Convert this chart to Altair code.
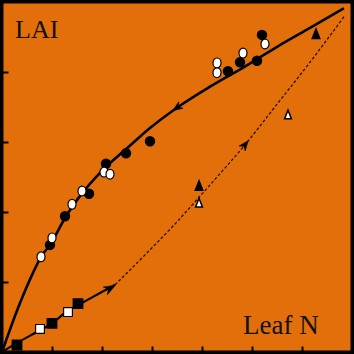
import altair as alt
import pandas as pd

# ---- data (x: leaf N, y: LAI; arbitrary units) ----
upper_x = [0.0, 0.36, 0.62, 0.78, 0.96, 1.28, 1.56, 1.96, 2.50, 2.96, 3.50, 4.16, 4.84, 5.50, 6.16, 6.84]
upper_y = [0.0, 0.70, 1.13, 1.36, 1.53, 1.94, 2.23, 2.56, 2.91, 3.20, 3.49, 3.79, 4.07, 4.36, 4.63, 4.91]

lower_solid_x = [0.0, 0.30, 0.76, 1.00, 1.32, 1.52, 2.26]
lower_solid_y = [0.0, 0.13, 0.31, 0.41, 0.59, 0.67, 0.96]

lower_dash_x = [2.26, 2.96, 3.50, 3.94, 4.30, 4.86, 5.50, 6.16, 6.84]
lower_dash_y = [0.96, 1.46, 1.86, 2.21, 2.50, 2.96, 3.54, 4.14, 4.79]

black_circle_x = [0.96, 1.26, 1.74, 2.08, 2.48, 2.96, 4.52, 4.76, 5.10, 5.20]
black_circle_y = [1.53, 1.94, 2.26, 2.69, 2.84, 3.01, 4.01, 4.14, 4.16, 4.53]
white_circle_x = [0.78, 1.00, 1.40, 1.60, 2.04, 2.16, 4.30, 4.30, 4.82, 5.26]
white_circle_y = [1.36, 1.63, 2.11, 2.30, 2.57, 2.54, 4.13, 3.99, 4.27, 4.40]

black_square_x = [0.30, 1.00, 1.52]
black_square_y = [0.10, 0.41, 0.69]
white_square_x = [0.76, 1.32]
white_square_y = [0.33, 0.57]

black_tri_x = [3.94, 6.28]
black_tri_y = [2.37, 4.54]
white_tri_x = [3.94, 5.72]
white_tri_y = [2.13, 3.39]

arrow_up_curve = (3.50, 3.49)
arrow_low_solid = (2.16, 0.91)
arrow_low_dash = (4.86, 2.96)

label_lai = ["LAI"]
label_lai_x = [0.26]
label_lai_y = [4.49]
label_n = ["Leaf N"]
label_n_x = [4.82]
label_n_y = [0.26]

x_ticks = [1, 2, 3, 4, 5, 6]
y_ticks = [1, 2, 3, 4]

ORANGE = "#E36F0B"

xs = alt.Scale(domain=[0, 7], nice=False, zero=False)
ys = alt.Scale(domain=[0, 5], nice=False, zero=False)
xaxis = alt.Axis(values=x_ticks, labels=False, title=None, grid=False, domain=False,
                 tickSize=6, tickWidth=2, tickColor="black", offset=-6)
yaxis = alt.Axis(values=y_ticks, labels=False, title=None, grid=False, domain=False,
                 tickSize=6, tickWidth=2, tickColor="black", offset=-6)


def df(xv, yv):
    return pd.DataFrame({"x": xv, "y": yv, "i": list(range(len(xv)))})


def enc(ch):
    return ch.encode(x=alt.X("x:Q", scale=xs, axis=xaxis),
                     y=alt.Y("y:Q", scale=ys, axis=yaxis))


upper = enc(alt.Chart(df(upper_x, upper_y)).mark_line(
    color="black", strokeWidth=2.6, interpolate="monotone")).encode(order="i:Q")
lsolid = enc(alt.Chart(df(lower_solid_x, lower_solid_y)).mark_line(
    color="black", strokeWidth=2.2, interpolate="monotone")).encode(order="i:Q")
ldash = enc(alt.Chart(df(lower_dash_x, lower_dash_y)).mark_line(
    color="#2a1200", strokeWidth=1.3, strokeDash=[3, 2], interpolate="monotone")).encode(order="i:Q")

bc = enc(alt.Chart(df(black_circle_x, black_circle_y)).mark_point(
    shape="circle", filled=True, fill="black", stroke="black", size=72, opacity=1))
wc = enc(alt.Chart(df(white_circle_x, white_circle_y)).mark_point(
    shape="M0,-1.1A0.9,1.1 0 1,0 0,1.1A0.9,1.1 0 1,0 0,-1.1Z", filled=True, fill="white",
    stroke="black", strokeWidth=1.2, size=80, opacity=1))
bs = enc(alt.Chart(df(black_square_x, black_square_y)).mark_point(
    shape="square", filled=True, fill="black", stroke="black", size=78, opacity=1))
ws = enc(alt.Chart(df(white_square_x, white_square_y)).mark_point(
    shape="square", filled=True, fill="white", stroke="black", strokeWidth=1.2, size=78, opacity=1))
tri = "M0,-1.15L-0.85,1L0.85,1Z"
bt = enc(alt.Chart(df(black_tri_x, black_tri_y)).mark_point(
    shape=tri, filled=True, fill="black", stroke="black", size=64, opacity=1))
wt = enc(alt.Chart(df(white_tri_x, white_tri_y)).mark_point(
    shape=tri, filled=True, fill="white", stroke="black", strokeWidth=1.5, size=64, opacity=1))

arrow_shape = "M0,-1L0.75,0.9L0,0.35L-0.75,0.9Z"


def arrow(pt, ang, sz):
    return enc(alt.Chart(df([pt[0]], [pt[1]])).mark_point(
        shape=arrow_shape, filled=True, fill="black", stroke="black", strokeWidth=0.5,
        size=sz, opacity=1, angle=ang))


a1 = arrow(arrow_up_curve, 236, 110)
a2 = arrow(arrow_low_solid, 62, 140)
a3 = arrow(arrow_low_dash, 38, 110)

txt1 = enc(alt.Chart(pd.DataFrame({"x": label_lai_x, "y": label_lai_y, "t": label_lai})).mark_text(
    font="Liberation Serif", fontSize=26, align="left", baseline="alphabetic", color="#111111"
)).encode(text="t:N")
txt2 = enc(alt.Chart(pd.DataFrame({"x": label_n_x, "y": label_n_y, "t": label_n})).mark_text(
    font="Liberation Serif", fontSize=27, align="left", baseline="alphabetic", color="#111111"
)).encode(text="t:N")

chart = alt.layer(upper, lsolid, ldash, bc, wc, bs, ws, bt, wt, a1, a2, a3, txt1, txt2).properties(
    width=350, height=350, padding=2, autosize=alt.AutoSizeParams(type="none"),
    background="black"
).configure_view(fill=ORANGE, stroke="black", strokeWidth=3)

chart.save("out.html", embed_options={"renderer": "svg", "actions": False})
